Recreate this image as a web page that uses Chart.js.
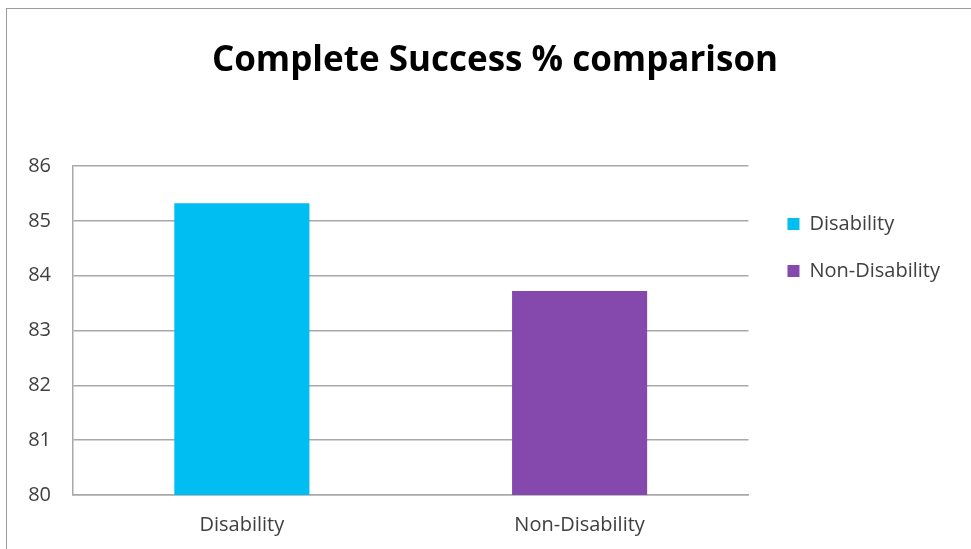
<!DOCTYPE html>
<html>
<head>
<meta charset="utf-8">
<title>Complete Success % comparison</title>
<script src="https://cdn.jsdelivr.net/npm/chart.js@4/dist/chart.umd.min.js"></script>
<style>
    html, body {
        margin: 0;
        padding: 0;
        background: #ffffff;
        overflow: hidden;
        width: 971px;
        height: 549px;
    }
    #frame {
        position: absolute;
        left: 6px;
        top: 8px;
        border: 1px solid #9c9c9c;
        background: #ffffff;
    }
    #frame canvas {
        display: block;
    }
</style>
</head>
<body>
<div id="frame">
    <canvas id="successChart" width="976" height="546"></canvas>
</div>
<script>
// Categories and their complete success rates (%)
const categories = ['Disability', 'Non-Disability'];
const successRates = [85.32, 83.72];

// Value axis tick labels
const yTicks = [80, 81, 82, 83, 84, 85, 86];

const barColors = ['#00bdf2', '#8548ac'];
const fontFamily = "'Open Sans', 'DejaVu Sans', sans-serif";

// One dataset per category so each gets its own legend entry
const datasets = categories.map((name, i) => ({
    label: name,
    data: categories.map((_, j) => (j === i ? successRates[i] : null)),
    backgroundColor: barColors[i],
    borderWidth: 0,
    grouped: false,
    barPercentage: 0.4,
    categoryPercentage: 1.0
}));

// Fine-tune where the title and legend blocks sit after layout
const blockOffsets = {
    id: 'blockOffsets',
    afterLayout(chart) {
        const lg = chart.legend;
        if (lg) {
            lg.left += 12;
            lg.right += 12;
            lg.top += 21;
            lg.bottom += 21;
        }
        // centre the title on the whole frame rather than the padded area
        const tb = chart.titleBlock;
        if (tb) {
            tb.left += 12;
            tb.right += 12;
        }
    }
};

const ctx = document.getElementById('successChart').getContext('2d');
new Chart(ctx, {
    type: 'bar',
    data: {
        labels: categories,
        datasets: datasets
    },
    options: {
        responsive: false,
        animation: false,
        layout: {
            padding: { top: 0, left: 21, right: 45, bottom: 0 }
        },
        plugins: {
            title: {
                display: true,
                text: 'Complete Success % comparison',
                color: '#000000',
                font: { family: fontFamily, size: 35, weight: 'bold' },
                padding: { top: 31, bottom: 84 }
            },
            legend: {
                position: 'right',
                align: 'start',
                fullSize: false,
                labels: {
                    boxWidth: 12,
                    boxHeight: 12,
                    padding: 27,
                    color: '#404040',
                    font: { family: fontFamily, size: 20 }
                }
            },
            tooltip: { enabled: false }
        },
        scales: {
            x: {
                grid: { display: false, drawTicks: false },
                border: { display: true, color: '#a8a8a8', width: 1.5 },
                ticks: {
                    color: '#404040',
                    padding: 18,
                    font: { family: fontFamily, size: 20 }
                }
            },
            y: {
                min: yTicks[0],
                max: yTicks[yTicks.length - 1],
                afterFit(scale) {
                    scale.width = 45;
                },
                afterBuildTicks(scale) {
                    scale.ticks = yTicks.map(v => ({ value: v }));
                },
                grid: {
                    color: '#a8a8a8',
                    lineWidth: 1.5,
                    drawTicks: false
                },
                border: { display: true, color: '#a8a8a8', width: 1.5 },
                ticks: {
                    color: '#404040',
                    padding: 22,
                    font: { family: fontFamily, size: 20 }
                }
            }
        }
    },
    plugins: [blockOffsets]
});
</script>
</body>
</html>
